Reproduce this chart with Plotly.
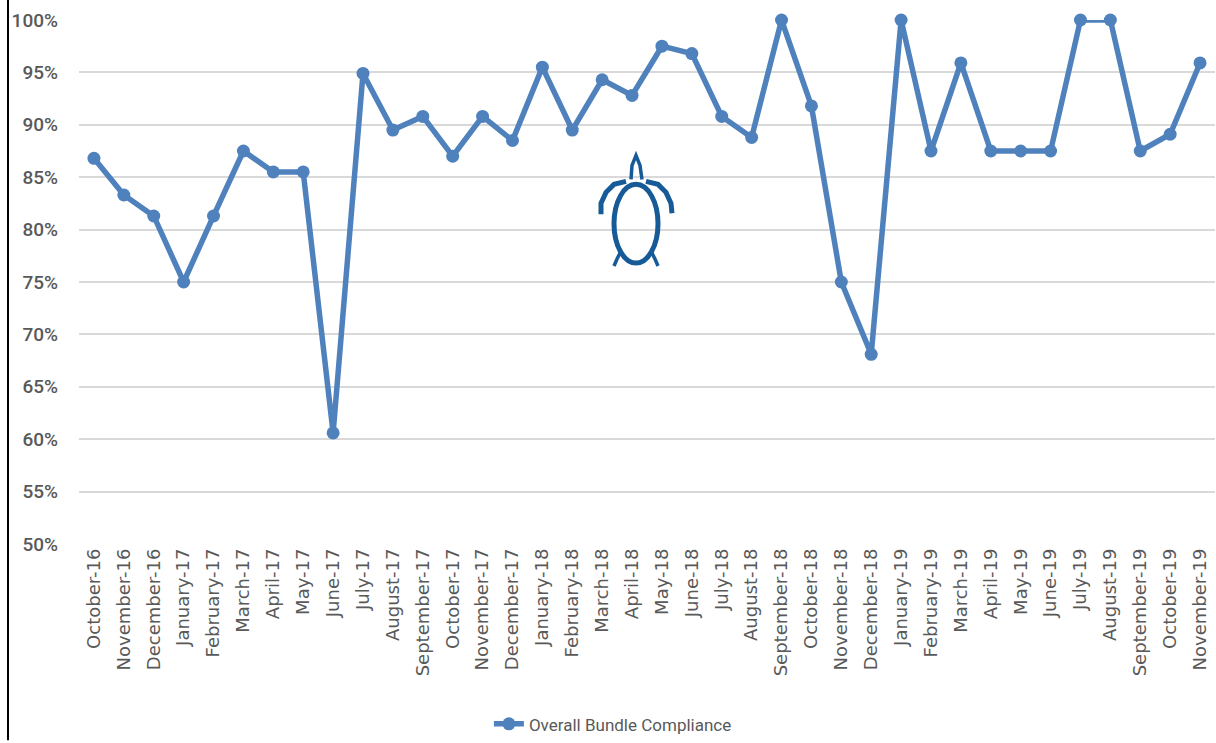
import plotly.graph_objects as go

months = ["October-16", "November-16", "December-16", "January-17", "February-17", "March-17",
          "April-17", "May-17", "June-17", "July-17", "August-17", "September-17", "October-17",
          "November-17", "December-17", "January-18", "February-18", "March-18", "April-18",
          "May-18", "June-18", "July-18", "August-18", "September-18", "October-18",
          "November-18", "December-18", "January-19", "February-19", "March-19", "April-19",
          "May-19", "June-19", "July-19", "August-19", "September-19", "October-19", "November-19"]
compliance = [86.8, 83.3, 81.3, 75.0, 81.3, 87.5, 85.5, 85.5, 60.6, 94.9, 89.5, 90.8, 87.0,
              90.8, 88.5, 95.5, 89.5, 94.3, 92.8, 97.5, 96.8, 90.8, 88.8, 100.0, 91.8,
              75.0, 68.1, 100.0, 87.5, 95.9, 87.5, 87.5, 87.5, 100.0, 100.0, 87.5, 89.1, 95.9]
y_ticks = [50, 55, 60, 65, 70, 75, 80, 85, 90, 95, 100]
y_tick_text = [f"{v}%" for v in y_ticks]

W, H = 1216, 743
L, R, T, B = 79, 1, 20, 197
PW, PH = W - L - R, H - T - B

def px(x):
    return (x - L) / PW

def py(y):
    return (H - B - y) / PH

fig = go.Figure()
fig.add_trace(go.Scatter(
    x=months, y=compliance, mode="lines+markers", name="Overall Bundle Compliance",
    line=dict(color="#4f81bd", width=5.5), marker=dict(color="#4f81bd", size=13),
    cliponaxis=False))

TURTLE = "#175a98"
def path(pts, close=False):
    s = "M " + " L ".join(f"{px(a):.5f},{py(b):.5f}" for a, b in pts)
    return s + (" Z" if close else "")

shapes = [
    # left frame line
    dict(type="line", xref="paper", yref="paper", x0=px(8), x1=px(8), y0=py(0), y1=py(743),
         line=dict(color="black", width=2)),
    # turtle shell
    dict(type="circle", xref="paper", yref="paper", x0=px(614), x1=px(658), y0=py(185), y1=py(264),
         line=dict(color=TURTLE, width=5)),
    # head
    dict(type="path", xref="paper", yref="paper",
         path=path([(631, 180), (632, 166), (636, 156), (640, 166), (642, 180)]),
         line=dict(color=TURTLE, width=3.5)),
    # front flippers
    dict(type="path", xref="paper", yref="paper",
         path=path([(626, 182), (614, 185), (606, 193), (601, 204), (601, 215)]),
         line=dict(color=TURTLE, width=5)),
    dict(type="path", xref="paper", yref="paper",
         path=path([(646, 182), (658, 185), (666, 193), (671, 204), (672, 214)]),
         line=dict(color=TURTLE, width=5)),
    # back flippers
    dict(type="path", xref="paper", yref="paper",
         path=path([(621, 252), (617, 260), (614, 267)]),
         line=dict(color=TURTLE, width=3.5)),
    dict(type="path", xref="paper", yref="paper",
         path=path([(651, 252), (655, 260), (658, 267)]),
         line=dict(color=TURTLE, width=3.5)),
]

fig.update_layout(
    width=W, height=H, margin=dict(l=L, r=R, t=T, b=B),
    paper_bgcolor="white", plot_bgcolor="white",
    showlegend=True,
    legend=dict(orientation="h", x=0.47, xanchor="center", y=py(727), yanchor="middle",
                font=dict(family="Roboto", size=17, color="#595959")),
    xaxis=dict(type="category", tickangle=-90, showgrid=False, showline=False, ticks="",
               tickfont=dict(family="DejaVu Sans", size=18, color="#595959"),
               range=[-0.5, len(months) - 0.5], fixedrange=True),
    yaxis=dict(range=[50, 100], tickvals=y_ticks, ticktext=y_tick_text,
               showgrid=True, gridcolor="#d9d9d9", gridwidth=2, zeroline=False,
               showline=False, ticks="", ticklabelstandoff=20,
               tickfont=dict(family="Roboto", size=19, color="#595959", weight=500)),
    shapes=shapes,
)

fig.write_html("out.html")
